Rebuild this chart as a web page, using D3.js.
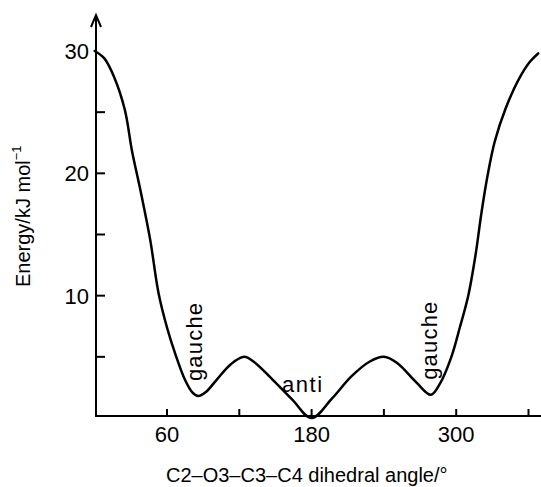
<!DOCTYPE html>
<html>
<head>
<meta charset="utf-8">
<script src="https://cdn.jsdelivr.net/npm/d3@7"></script>
<style>
  body { margin: 0; background: #fff; }
  text { font-family: "Liberation Sans", Arial, sans-serif; fill: #000; }
</style>
</head>
<body>
<div id="chart"></div>
<script>
// dihedral angle (deg) vs energy (kJ/mol)
const angles = [0, 8, 16, 25, 31, 38, 46, 53, 60, 67, 75, 81, 86, 92, 101, 113, 124, 132, 148, 164, 180,
  197, 213, 228, 240, 251, 267, 279, 287, 296, 303, 310, 316, 321, 326, 332, 341, 352, 361, 368];
const energies = [30, 29.4, 27.9, 25.2, 21.8, 18.6, 14.6, 10.2, 7.4, 5.2, 3.1, 2.1, 1.8, 2.1, 3.1, 4.4, 5.0, 4.6, 3.1, 1.5, 0,
  1.6, 3.4, 4.6, 5.0, 4.5, 2.9, 1.9, 2.9, 5.0, 7.4, 10.0, 13.3, 16.8, 19.8, 22.6, 25.3, 27.7, 29.1, 29.8];

const xTicks = [60, 120, 180, 240, 300, 360];
const xTickLabels = [60, 180, 300];
const yTicks = [5, 10, 15, 20, 25];
const yTickLabels = [10, 20, 30];

const labels = [
  { text: "gauche", angle: 85, energy: 3.1, rotate: true },
  { text: "anti", angle: 155.5, energy: 2.1, rotate: false },
  { text: "gauche", angle: 280, energy: 3.2, rotate: true }
];

const width = 541;
const height = 487;

const svg = d3.select("#chart")
  .append("svg")
  .attr("width", width)
  .attr("height", height);

const x = d3.scaleLinear().domain([0, 360]).range([94.7, 528.5]);
const y = d3.scaleLinear().domain([0, 30]).range([418, 51]);

const AXIS_X = 96;
const AXIS_Y = 416;

// axes lines
svg.append("line")
  .attr("x1", AXIS_X).attr("x2", width)
  .attr("y1", AXIS_Y).attr("y2", AXIS_Y)
  .attr("stroke", "#000").attr("stroke-width", 2);

svg.append("line")
  .attr("x1", AXIS_X).attr("x2", AXIS_X)
  .attr("y1", AXIS_Y + 1).attr("y2", 15)
  .attr("stroke", "#000").attr("stroke-width", 2);

// open arrow head on y axis
svg.append("path")
  .attr("d", `M${AXIS_X - 5},27 L${AXIS_X},15 L${AXIS_X + 5},27`)
  .attr("fill", "none")
  .attr("stroke", "#000")
  .attr("stroke-width", 2);

// x ticks (pointing up)
svg.append("g")
  .selectAll("line")
  .data(xTicks)
  .enter()
  .append("line")
  .attr("x1", (d) => x(d)).attr("x2", (d) => x(d))
  .attr("y1", AXIS_Y).attr("y2", AXIS_Y - 7)
  .attr("stroke", "#000").attr("stroke-width", 2);

svg.append("g")
  .selectAll("text")
  .data(xTickLabels)
  .enter()
  .append("text")
  .attr("x", (d) => x(d))
  .attr("y", 442)
  .attr("text-anchor", "middle")
  .style("font-size", "22px")
  .text((d) => d);

// y ticks (pointing right)
svg.append("g")
  .selectAll("line")
  .data(yTicks)
  .enter()
  .append("line")
  .attr("x1", AXIS_X).attr("x2", AXIS_X + 9)
  .attr("y1", (d) => y(d)).attr("y2", (d) => y(d))
  .attr("stroke", "#000").attr("stroke-width", 2);

svg.append("g")
  .selectAll("text")
  .data(yTickLabels)
  .enter()
  .append("text")
  .attr("x", 89)
  .attr("y", (d) => y(d) + 8)
  .attr("text-anchor", "end")
  .style("font-size", "22px")
  .text((d) => d);

// axis titles
svg.append("text")
  .attr("x", 166)
  .attr("y", 482)
  .style("font-size", "20px")
  .text("C2\u2013O3\u2013C3\u2013C4 dihedral angle/\u00b0");

const yTitle = svg.append("text")
  .attr("transform", "translate(30,287) rotate(-90)")
  .style("font-size", "20px");
yTitle.append("tspan").text("Energy/kJ mol");
yTitle.append("tspan").attr("dy", -9).style("font-size", "13px").text("\u22121");

// energy curve
const line = d3.line()
  .x((d, i) => x(angles[i]))
  .y((d) => y(d))
  .curve(d3.curveCatmullRom.alpha(0.5));

svg.append("path")
  .attr("d", line(energies))
  .attr("fill", "none")
  .attr("stroke", "#000")
  .attr("stroke-width", 2.5)
  .attr("stroke-linejoin", "round")
  .attr("stroke-linecap", "round");

// conformer labels
svg.append("g")
  .selectAll("text")
  .data(labels)
  .enter()
  .append("text")
  .attr("transform", (d) => d.rotate
    ? `translate(${x(d.angle) + 5},${y(d.energy) + 1}) rotate(-90)`
    : `translate(${x(d.angle)},${y(d.energy)})`)
  .attr("text-anchor", "start")
  .style("font-size", "22px")
  .style("letter-spacing", (d) => d.rotate ? "1.2px" : "1.5px")
  .text((d) => d.text);
</script>
</body>
</html>
